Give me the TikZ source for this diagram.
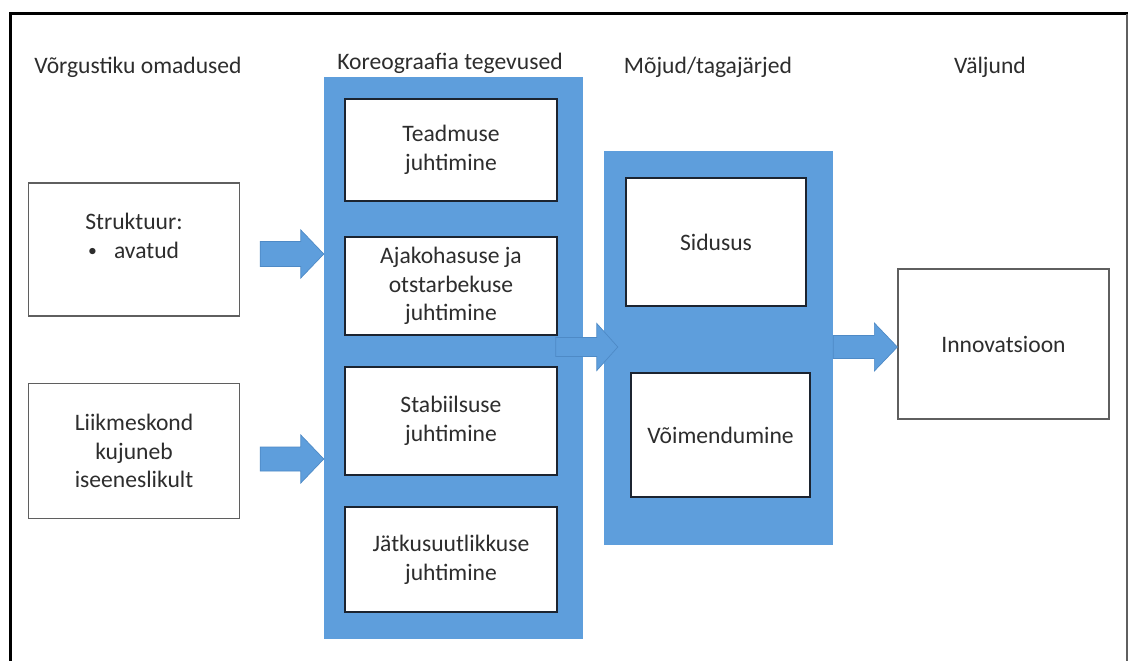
\documentclass[tikz,border=0pt]{standalone}
\usepackage{fontspec}
\setmainfont{Carlito}
\usetikzlibrary{calc}

\definecolor{panelblue}{RGB}{94,158,220}
\definecolor{arrowedge}{RGB}{78,138,198}
\definecolor{txtgray}{RGB}{45,45,45}
\definecolor{innerline}{RGB}{28,36,48}
\definecolor{outerline}{RGB}{95,95,95}

% block arrow: tail, tip, shaft half-width, head half-width, head length
\newcommand{\blockarrow}[5]{%
  \filldraw[arrowstyle]
    ($(#1)+(0,#3)$) -- ($(#2)+(-#5,#3)$) -- ($(#2)+(-#5,#4)$) -- (#2)
    -- ($(#2)+(-#5,-#4)$) -- ($(#2)+(-#5,-#3)$) -- ($(#1)+(0,-#3)$) -- cycle;}

\begin{document}
\begin{tikzpicture}[x=1pt,y=-1pt,
  txt/.style={font=\fontsize{23.6}{28.8}\selectfont, text=txtgray, align=center, inner sep=0pt},
  panel/.style={fill=panelblue, draw=none, inner sep=0pt},
  innerbox/.style={txt, fill=white, draw=innerline, line width=1.3pt, minimum width=212pt},
  outerbox/.style={txt, fill=white, draw=outerline, line width=1.3pt, minimum width=211pt},
  arrowstyle/.style={fill=panelblue, draw=arrowedge, line width=0.7pt, line join=miter},
]
\useasboundingbox (0,0) rectangle (1128,661);
\fill[white] (0,0) rectangle (1128,661);

% frame
\draw[black, line width=3pt] (10,661) -- (10,14) -- (1128,14);
\draw[outerline, line width=1.2pt] (1127,14) -- (1127,661);

% column headings
\node[txt, anchor=base] (h1) at (138,74) {Võrgustiku omadused};
\node[txt, anchor=base] (h2) at (450,70) {Koreograafia tegevused};
\node[txt, anchor=base] (h3) at (708,74) {Mõjud/tagajärjed};
\node[txt, anchor=base] (h4) at (990,74) {Väljund};

% blue panels
\node[panel, minimum width=259pt, minimum height=561pt] (col1) at (453.5,358) {};
\node[panel, minimum width=229pt, minimum height=394pt] (col2) at (718.5,348) {};

% network properties
\node[outerbox, minimum height=133pt] (struk) at (134,249.5) {};
\node[txt] (strukA) at (134,221) {Struktuur:};
\node[txt, anchor=base west] (strukB) at (88,258) {\raisebox{2pt}{\scalebox{0.75}{\textbullet}}\hspace{17pt}avatud};
\node[outerbox, minimum height=135pt] (liik) at (134,451) {Liikmeskond\\kujuneb\\iseeneslikult};

% choreography activities
\node[innerbox, minimum height=102pt] (tead) at (451,150) {Teadmuse\\juhtimine};
\node[innerbox, minimum height=98pt] (ajak) at (451,286) {Ajakohasuse ja\\otstarbekuse\\juhtimine};
\node[innerbox, minimum height=108pt] (stab) at (451,421) {Stabiilsuse\\juhtimine};
\node[innerbox, minimum height=105pt] (jatk) at (451,559.5) {Jätkusuutlikkuse\\juhtimine};

% effects
\node[innerbox, minimum width=180pt, minimum height=128pt] (sid) at (716,242) {Sidusus};
\node[innerbox, minimum width=179pt, minimum height=124pt] (voim) at (720.5,435) {Võimendumine};

% outcome
\node[outerbox, minimum height=150pt] (innov) at (1003.5,344) {Innovatsioon};

% arrows
\coordinate (t1) at ($(struk.east |- 0,254)+(20,0)$);
\coordinate (p1) at (t1 -| col1.west);
\blockarrow{t1}{p1}{12.5}{24}{23}
\coordinate (t2) at ($(liik.east |- 0,459)+(20,0)$);
\coordinate (p2) at (t2 -| col1.west);
\blockarrow{t2}{p2}{12}{24}{23}
\coordinate (t3) at ($(ajak.east |- 0,347)+(-2,0)$);
\coordinate (p3) at ($(col2.west |- 0,347)+(14,0)$);
\blockarrow{t3}{p3}{9.5}{23.5}{21}
\coordinate (t4) at (col2.east |- 0,347);
\coordinate (p4) at (innov.west |- 0,347);
\blockarrow{t4}{p4}{11.5}{24}{23}
\end{tikzpicture}
\end{document}
